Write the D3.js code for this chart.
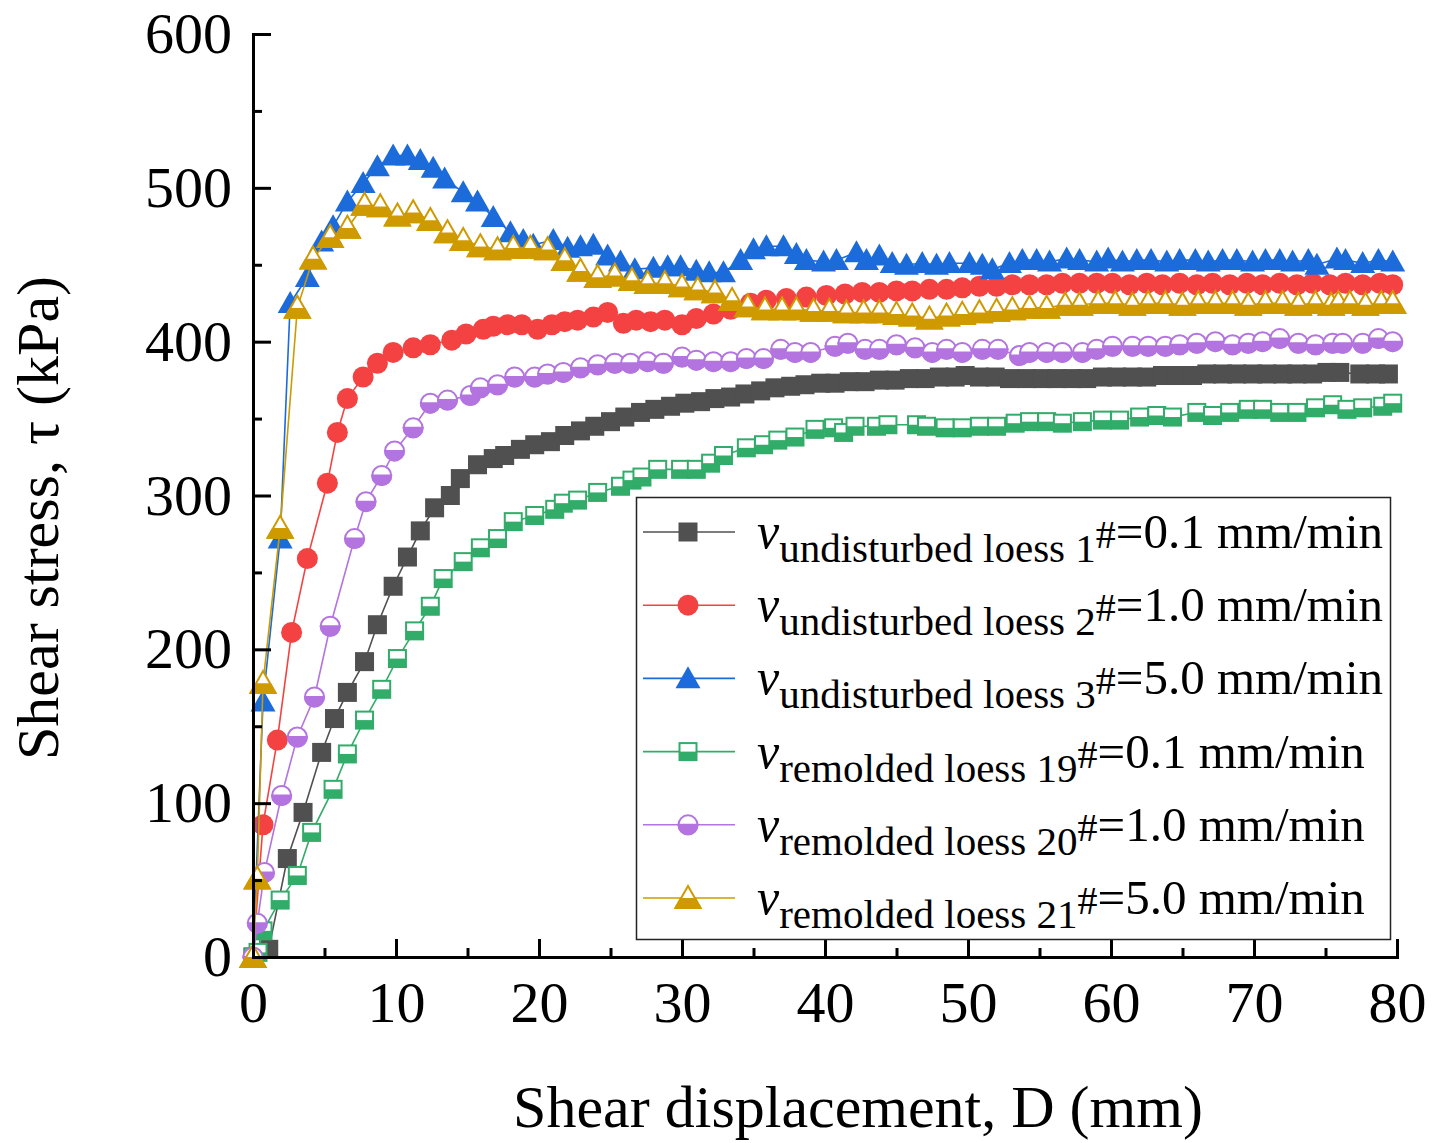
<!DOCTYPE html>
<html>
<head>
<meta charset="utf-8">
<script src="https://cdn.jsdelivr.net/npm/d3@7"></script>
<style>
  body { margin: 0; background: #fff; }
  svg { display: block; }
  text { font-family: "Liberation Serif", "Times New Roman", serif; }
</style>
</head>
<body>
<svg id="chart" width="1444" height="1143"></svg>
<script>
// ---- Shear displacement D (mm) and shear stress tau (kPa) per specimen ----
const dispU1 = [0,1.1,2.4,3.5,4.8,5.7,6.6,7.8,8.7,9.8,10.8,11.7,12.7,13.8,14.5,15.7,16.8,17.6,18.7,19.7,20.8,21.8,22.9,23.9,25.0,26.0,27.1,28.1,29.2,30.2,31.3,32.3,33.4,34.4,35.5,36.5,37.6,38.6,39.7,40.7,41.7,42.8,43.8,44.9,45.9,47.0,48.0,49.1,49.8,50.8,51.9,52.9,54.1,55.2,56.2,57.3,58.3,59.4,60.4,61.5,62.5,63.6,64.6,65.7,66.7,67.8,68.8,69.9,70.9,72.0,73.0,74.1,75.1,76.0,77.4,78.5,79.4];
const tauU1  = [0,5,64,94,133,155,172,192,216,241,260,277,292,300,311,320,324,326,330,333,335,339,342,345,348,351,354,356,358,360,361,363,364,366,368,370,371,372,373,373,374,374,375,375,376,376,377,377,378,377,377,376,376,376,376,376,376,377,377,377,377,378,378,378,379,379,379,379,379,379,379,379,380,380,379,379,379];

const dispU2 = [0,0.7,1.7,2.7,3.8,5.2,5.9,6.6,7.7,8.7,9.8,11.2,12.4,13.9,14.9,16.1,16.8,17.8,18.8,19.9,20.9,21.8,22.7,23.8,24.8,25.9,26.8,27.8,28.8,30.0,31.0,32.2,33.4,34.8,35.9,37.3,38.7,40.1,41.4,42.6,43.8,45.0,46.1,47.3,48.5,49.6,50.8,52.0,53.1,54.3,55.5,56.6,57.8,59.0,60.1,61.3,62.5,63.6,64.8,66.0,67.1,68.3,69.5,70.6,71.8,73.0,74.1,75.3,76.4,77.6,78.8,79.7];
const tauU2  = [0,86,141,211,259,308,341,363,377,386,393,396,398,401,405,408,410,411,411,408,411,413,414,416,419,412,414,413,414,411,415,418,421,425,427,428,429,430,431,432,432,433,433,434,434,435,436,436,437,437,437,438,438,438,438,437,438,437,438,437,438,437,438,437,438,437,438,437,438,437,438,437];

const dispU3 = [0,0.7,1.9,2.6,3.8,4.8,5.6,6.6,7.7,8.7,9.8,10.8,11.7,12.6,13.4,14.7,15.7,16.8,18.0,18.9,19.6,21.0,22.0,22.9,23.8,24.8,25.7,26.7,28.0,29.0,29.9,31.0,31.9,32.9,34.1,35.0,35.9,37.1,38.0,38.7,39.9,40.8,42.2,42.9,43.8,44.7,45.7,46.8,47.8,48.7,50.1,51.0,51.7,52.9,53.8,54.8,55.7,56.9,57.8,59.0,59.8,60.8,61.8,62.8,63.9,64.8,65.9,66.8,67.8,68.8,69.9,70.8,71.8,72.7,73.8,74.4,75.8,76.4,77.6,78.7,79.7];
const tauU3  = [0,166,272,425,442,465,475,491,503,514,521,521,518,513,506,497,491,481,471,466,463,466,461,462,463,456,452,447,448,449,449,446,445,445,453,460,462,462,457,453,452,453,458,453,456,451,450,451,450,451,451,450,447,451,453,453,452,454,453,452,454,452,453,453,452,453,453,452,453,453,452,453,453,452,453,450,454,453,451,453,452];

const dispR19 = [0,0.35,0.7,1.9,3.1,4.1,5.6,6.6,7.8,9.0,10.1,11.3,12.4,13.3,14.7,15.9,17.1,18.2,19.7,21.1,21.7,22.7,24.1,25.7,26.5,27.2,28.3,29.9,31.0,32.0,32.9,34.5,35.7,36.7,37.9,39.3,40.6,41.3,42.1,43.6,44.4,46.4,47.1,48.4,49.6,50.8,52.0,53.3,54.3,55.5,56.6,58.0,59.4,60.6,62.0,63.2,64.3,66.0,67.1,68.3,69.6,70.6,71.8,73.0,74.3,75.5,76.5,77.6,79.0,79.7];
const tauR19  = [0,3,17,37,53,81,109,132,154,174,194,212,228,246,257,266,272,283,287,291,295,297,302,306,310,312,317,317,317,321,326,331,333,336,338,343,344,341,345,345,346,346,345,344,344,345,345,347,348,348,347,348,349,349,351,352,351,354,352,354,356,356,354,354,357,359,356,357,358,360];

const dispR20 = [0,0.3,0.8,2.0,3.1,4.3,5.4,7.1,7.9,9.0,9.9,11.2,12.4,13.6,15.2,15.9,17.1,18.3,19.7,20.6,21.7,22.9,24.1,25.3,26.4,27.6,28.7,30.0,31.0,32.2,33.4,34.5,35.7,36.9,37.9,39.0,40.7,41.6,42.8,43.8,45.0,46.3,47.5,48.5,49.6,51.0,52.1,53.6,54.3,55.5,56.6,58.0,59.0,60.1,61.5,62.6,63.8,64.8,66.0,67.3,68.5,69.6,70.6,71.8,73.1,74.3,75.5,76.2,77.6,78.7,79.7];
const tauR20  = [0,22,55,105,143,169,215,272,296,313,329,344,360,362,365,370,372,377,377,379,380,383,385,386,386,387,386,390,388,387,387,389,389,395,393,393,397,399,395,395,398,396,393,395,393,395,395,391,393,393,393,393,395,397,397,397,397,398,399,400,398,399,400,402,399,398,399,399,399,402,400];

const dispR21 = [0,0.3,0.7,1.9,3.1,4.2,5.4,6.6,7.8,8.9,10.1,11.2,12.4,13.6,14.7,15.9,17.1,18.2,19.4,20.6,21.8,22.9,24.1,25.3,26.5,27.6,28.8,30.0,31.1,32.3,33.5,34.6,35.8,37.0,38.0,39.2,40.3,41.5,42.7,43.8,45.0,46.1,47.3,48.5,49.6,50.8,52.0,53.1,54.3,55.5,56.8,57.8,59.1,60.3,61.5,62.6,63.8,65.0,66.1,67.3,68.5,69.6,70.8,72.0,73.1,74.3,75.4,75.9,76.7,77.8,78.9,79.7];
const tauR21  = [0,51,178,279,422,454,468,474,489,488,482,484,479,471,466,462,460,461,461,460,453,446,442,443,440,438,438,436,434,432,427,423,421,421,421,420,420,419,419,419,418,417,415,417,418,419,420,421,422,422,424,424,425,425,424,425,425,424,425,425,425,424,425,425,424,425,424,425,425,424,425,425];

// ---- Legend text pieces ----
const seriesSubs  = ["undisturbed loess 1", "undisturbed loess 2", "undisturbed loess 3",
                     "remolded loess 19", "remolded loess 20", "remolded loess 21"];
const seriesRates = ["0.1 mm/min", "1.0 mm/min", "5.0 mm/min", "0.1 mm/min", "1.0 mm/min", "5.0 mm/min"];
const seriesColors = ["#505050", "#f44242", "#1b6bdb", "#31ac69", "#b374e0", "#cf9a00"];
const seriesMarkers = ["square", "circle", "triangle", "halfSquare", "halfCircle", "halfTriangle"];

// ---- Axis ticks ----
const xMajor = [0, 10, 20, 30, 40, 50, 60, 70, 80];
const xMinor = [5, 15, 25, 35, 45, 55, 65, 75];
const yMajor = [0, 100, 200, 300, 400, 500, 600];
const yMinor = [50, 150, 250, 350, 450, 550];

const series = [
  [dispU1, tauU1], [dispU2, tauU2], [dispU3, tauU3],
  [dispR19, tauR19], [dispR20, tauR20], [dispR21, tauR21]
].map(([d, t], i) => ({
  points: d.map((v, k) => [v, t[k]]),
  sub: seriesSubs[i], rate: seriesRates[i],
  color: seriesColors[i], marker: seriesMarkers[i]
}));

const svg = d3.select("#chart");
const FONT = '"Liberation Serif", "Times New Roman", serif';

const x = d3.scaleLinear().domain([0, 80]).range([253, 1397]);
const y = d3.scaleLinear().domain([0, 600]).range([957, 34]);

// ---- Marker drawing ----
function drawMarker(g, type, color, cx, cy) {
  const s = 19, r = 10.5, tw = 12.5, th = 22;
  if (type === "square") {
    g.append("rect").attr("x", cx - s / 2).attr("y", cy - s / 2).attr("width", s).attr("height", s)
      .attr("fill", color);
  } else if (type === "circle") {
    g.append("circle").attr("cx", cx).attr("cy", cy).attr("r", r).attr("fill", color);
  } else if (type === "triangle") {
    g.append("path").attr("d", `M${cx},${cy - th * 0.55}L${cx + tw},${cy + th * 0.45}L${cx - tw},${cy + th * 0.45}Z`)
      .attr("fill", color);
  } else if (type === "halfSquare") {
    const q = s - 2;
    g.append("rect").attr("x", cx - q / 2).attr("y", cy - q / 2).attr("width", q).attr("height", q)
      .attr("fill", "#fff").attr("stroke", color).attr("stroke-width", 2);
    g.append("rect").attr("x", cx - q / 2).attr("y", cy).attr("width", q).attr("height", q / 2)
      .attr("fill", color);
  } else if (type === "halfCircle") {
    const rr = r - 1;
    g.append("circle").attr("cx", cx).attr("cy", cy).attr("r", rr)
      .attr("fill", "#fff").attr("stroke", color).attr("stroke-width", 2);
    g.append("path").attr("d", `M${cx - rr},${cy}A${rr},${rr} 0 0 0 ${cx + rr},${cy}Z`)
      .attr("fill", color).attr("stroke", color).attr("stroke-width", 2);
  } else if (type === "halfTriangle") {
    const top = cy - th * 0.55, base = cy + th * 0.45;
    g.append("path").attr("d", `M${cx},${top}L${cx + tw},${base}L${cx - tw},${base}Z`)
      .attr("fill", "#fff").attr("stroke", color).attr("stroke-width", 2).attr("stroke-linejoin", "miter");
    const f = 0.6, ym = top + th * f, hw = tw * f;
    g.append("path").attr("d", `M${cx - hw},${ym}L${cx + hw},${ym}L${cx + tw},${base}L${cx - tw},${base}Z`)
      .attr("fill", color).attr("stroke", color).attr("stroke-width", 2);
  }
}

// ---- Series: line then symbols, in legend order ----
const line = d3.line().x(d => x(d[0])).y(d => y(d[1]));
series.forEach(s => {
  const g = svg.append("g");
  g.append("path").datum(s.points).attr("d", line)
    .attr("fill", "none").attr("stroke", s.color).attr("stroke-width", 1.6);
  s.points.forEach(p => drawMarker(g, s.marker, s.color, x(p[0]), y(p[1])));
});

// ---- Axes (ticks pointing inward) ----
function styleAxis(g) {
  g.attr("font-family", FONT).attr("font-size", 58);
  g.selectAll(".tick line").attr("stroke", "#000").attr("stroke-width", 3);
  g.selectAll(".tick text").attr("fill", "#000");
}
const gxMinor = svg.append("g").attr("transform", "translate(0,957)")
  .call(d3.axisBottom(x).tickValues(xMinor).tickSize(-9).tickFormat(""));
gxMinor.select(".domain").remove();
styleAxis(gxMinor);
const gyMinor = svg.append("g").attr("transform", "translate(253,0)")
  .call(d3.axisLeft(y).tickValues(yMinor).tickSize(-9).tickFormat(""));
gyMinor.select(".domain").remove();
styleAxis(gyMinor);

const gx = svg.append("g").attr("transform", "translate(0,957)")
  .call(d3.axisBottom(x).tickValues(xMajor).tickSize(-18).tickSizeOuter(0).tickPadding(24));
styleAxis(gx);
gx.select(".domain").attr("stroke", "#000").attr("stroke-width", 3).attr("stroke-linecap", "square");

const gy = svg.append("g").attr("transform", "translate(253,0)")
  .call(d3.axisLeft(y).tickValues(yMajor).tickSize(-18).tickSizeOuter(0).tickPadding(21));
styleAxis(gy);
gy.select(".domain").attr("stroke", "#000").attr("stroke-width", 3).attr("stroke-linecap", "square");

// ---- Axis titles ----
svg.append("text").attr("x", 858).attr("y", 1127).attr("text-anchor", "middle")
  .attr("font-size", 60).attr("fill", "#000").text("Shear displacement, D (mm)");
svg.append("text").attr("transform", "translate(58,518) rotate(-90)").attr("text-anchor", "middle")
  .attr("font-size", 60).attr("fill", "#000").text("Shear stress, τ (kPa)");

// ---- Legend ----
const lg = svg.append("g");
lg.append("rect").attr("x", 636.5).attr("y", 497.5).attr("width", 754).attr("height", 442)
  .attr("fill", "#fff").attr("stroke", "#222").attr("stroke-width", 1.5);
series.forEach((s, i) => {
  const ly = 532 + i * 73.2;
  lg.append("line").attr("x1", 643).attr("x2", 735).attr("y1", ly).attr("y2", ly)
    .attr("stroke", s.color).attr("stroke-width", 1.6);
  drawMarker(lg, s.marker, s.color, 688, ly);
  const t = lg.append("text").attr("x", 757).attr("y", ly + 16).attr("fill", "#000");
  t.append("tspan").attr("font-style", "italic").attr("font-size", 50).text("v");
  t.append("tspan").attr("font-size", 41).attr("dy", 14).text(s.sub);
  t.append("tspan").attr("font-size", 40).attr("dy", -14).text("#");
  t.append("tspan").attr("font-size", 49).text("=" + s.rate);
});
</script>
</body>
</html>
